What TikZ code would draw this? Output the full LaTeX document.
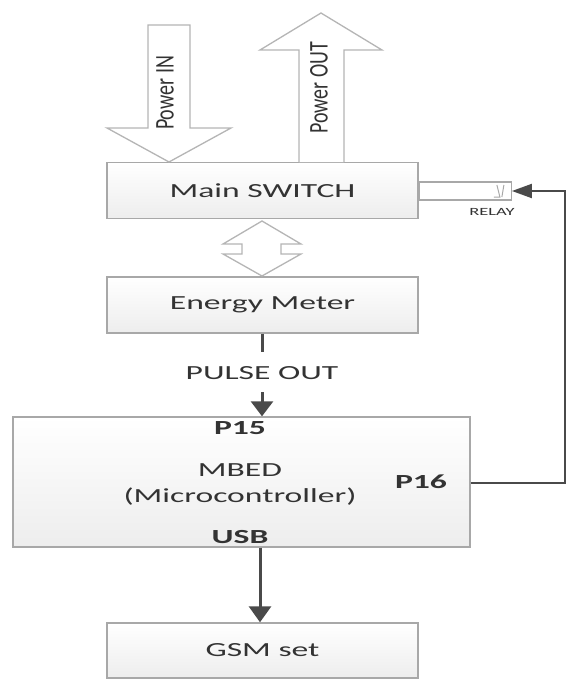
\documentclass[tikz,border=0pt]{standalone}
\usepackage{fontspec}
\setmainfont{Carlito}[FakeStretch=1.68]
\newfontfamily\rotf{Carlito}
\usetikzlibrary{arrows.meta}
\definecolor{txt}{HTML}{333333}
\definecolor{edge}{HTML}{A8A8A8}
\definecolor{conn}{HTML}{4A4A4A}
\tikzset{
  blockbox/.style={draw=edge, line width=1.4pt, top color=white, bottom color=gray!14, minimum height=56pt, inner sep=0pt, text=txt, font=\fontsize{20}{22}\selectfont},
  label/.style={text=txt, font=\fontsize{20}{22}\selectfont, inner sep=0pt},
  pin/.style={text=txt, font=\fontsize{20}{22}\selectfont\bfseries, inner sep=0pt},
  bigarrow/.style={draw=edge!85, line width=1.3pt, fill=white, line join=miter},
  wire/.style={draw=conn, line width=3pt},
  thinwire/.style={draw=conn, line width=2pt}
}
\begin{document}
\begin{tikzpicture}[x=1pt,y=-1pt]
\useasboundingbox (0,0) rectangle (569,682);
% blocks
\node[blockbox, minimum width=311pt] (sw) at (262.5,190.5) {Main SWITCH};
\node[blockbox, minimum width=311pt] (em) at (262.5,305) {Energy Meter};
\node[blockbox, minimum width=457pt, minimum height=130pt] (mbed) at (241.5,482) {};
\node[blockbox, minimum width=311pt, minimum height=55pt] (gsm) at (262.5,650.5) {GSM set};
% power arrows
\draw[bigarrow] (148,25) -- (190,25) -- (190,128) -- (231,128) -- (169,162) -- (107,128) -- (148,128) -- cycle;
\node[label, rotate=90] (pin) at (165,93) {\rotf\scalebox{1}[1.35]{Power IN}};
\draw[bigarrow] (299,162) -- (299,50) -- (260,50) -- (321,13) -- (382,50) -- (344,50) -- (344,162);
\node[label, rotate=90] (pout) at (319,88) {\rotf\scalebox{1}[1.35]{Power OUT}};
% double arrow
\draw[bigarrow] (262,221) -- (301,244) -- (281,244) -- (281,254) -- (301,254) -- (262,276) -- (223,254) -- (242,254) -- (242,244) -- (223,244) -- cycle;
% relay
\node[draw=edge, line width=1.2pt, minimum width=92pt, minimum height=18pt, inner sep=0pt, anchor=west, fill=white] (relay) at (sw.east |- 0,191) {};
\draw[edge, line width=1pt] ([xshift=-18pt,yshift=-6pt]relay.east) -- ([xshift=-12pt,yshift=-6pt]relay.east) -- ([xshift=-15pt,yshift=6pt]relay.east);
\draw[edge, line width=1pt] ([xshift=-10pt,yshift=-6pt]relay.east) -- ([xshift=-8pt,yshift=6pt]relay.east);
\node[text=txt, font=\fontsize{11}{12}\selectfont, inner sep=0pt] (rl) at (492,212) {RELAY};
% pulse out
\node[label] (pulse) at (262,373) {PULSE OUT};
\draw[wire] (em.south -| 262,0) -- (pulse.north |- 0,352);
\coordinate (pa) at (262,392);
\draw[wire, -{Triangle[width=22pt,length=15pt]}] (pa) -- (mbed.north -| pa);
% mbed labels
\node[pin] (p15) at (240,428) {P15};
\node[label] (mb) at (240,470) {MBED};
\node[label] (mc) at (240,497) {(Microcontroller)};
\node[pin] (p16) at (421,482) {P16};
\node[pin] (usb) at (240,537) {USB};
% feedback to relay
\coordinate (fr) at (565,483);
\draw[thinwire, -{Triangle[width=14pt,length=20pt]}] (mbed.east |- fr) -- (fr) -- (fr |- relay.east) -- (relay.east);
% usb to gsm
\draw[wire, -{Triangle[width=22pt,length=16pt]}] (mbed.south -| 260,0) -- (gsm.north -| 260,0);
\end{tikzpicture}
\end{document}
